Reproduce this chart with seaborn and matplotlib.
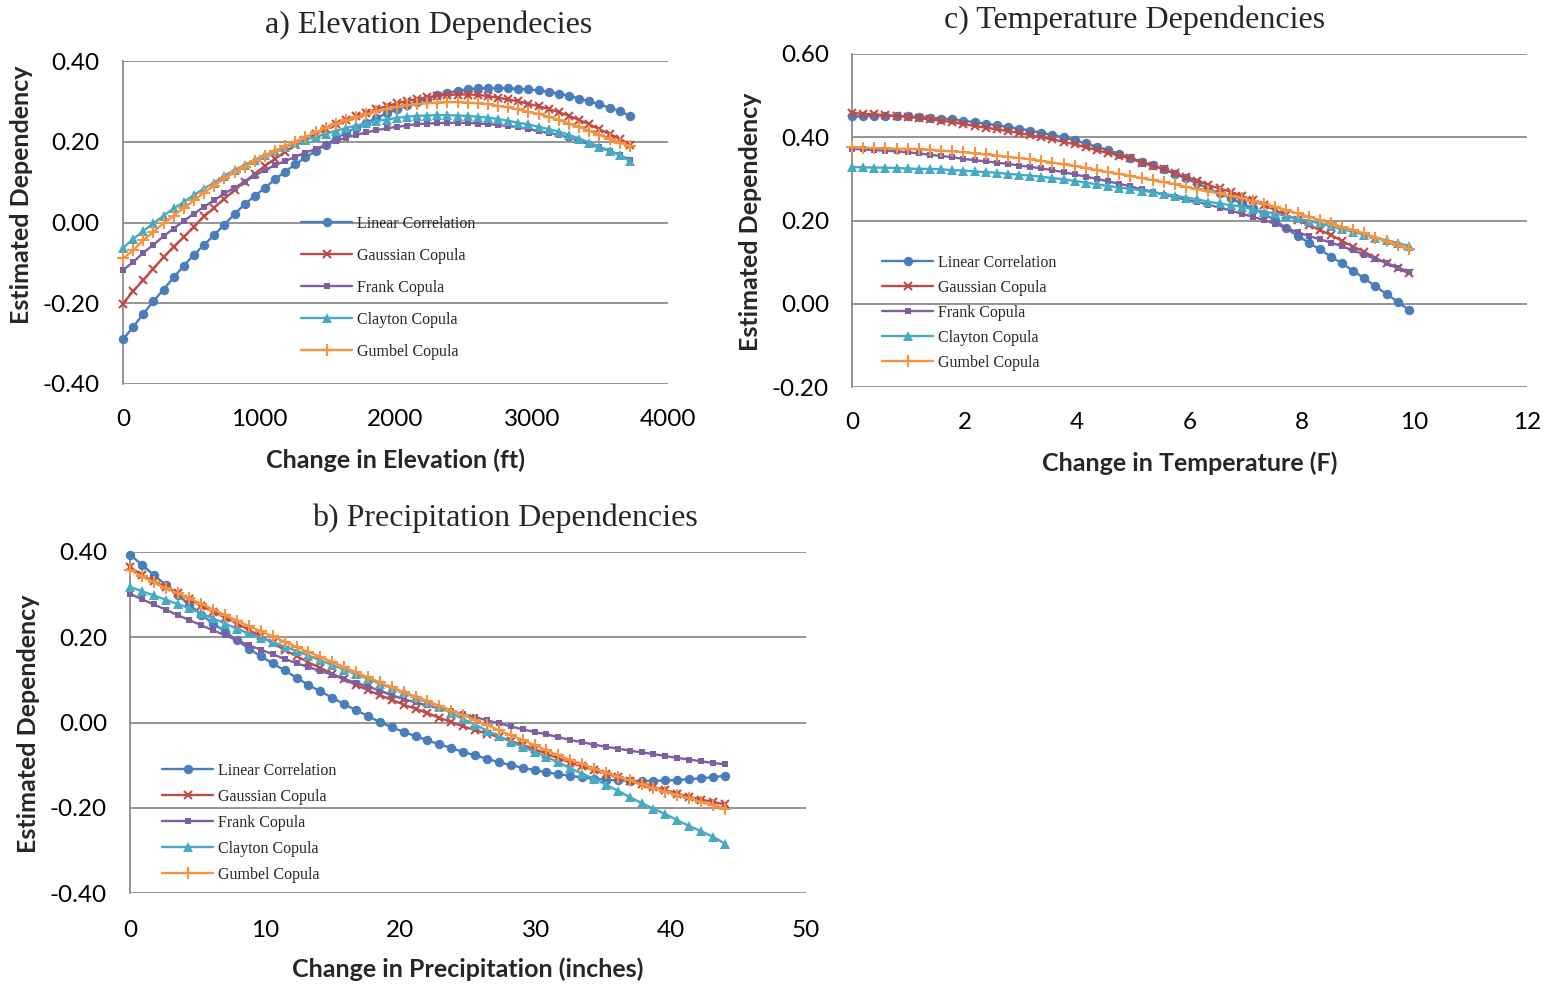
import numpy as np
import pandas as pd
import matplotlib
matplotlib.use("Agg")
import matplotlib.pyplot as plt
import seaborn as sns

# ---------------- data ----------------
series_names = ["Linear Correlation", "Gaussian Copula", "Frank Copula",
                "Clayton Copula", "Gumbel Copula"]

elev_ft = np.linspace(0, 3720, 51)
elev_linear = [-0.289, -0.259, -0.226, -0.195, -0.166, -0.136, -0.107, -0.080, -0.055, -0.031, -0.005,
               0.021, 0.045, 0.066, 0.086, 0.107, 0.126, 0.144, 0.161, 0.177, 0.193,
               0.208, 0.222, 0.235, 0.247, 0.259, 0.270, 0.280, 0.290, 0.299, 0.307,
               0.315, 0.321, 0.326, 0.330, 0.332, 0.333, 0.333, 0.332, 0.331, 0.330,
               0.327, 0.324, 0.319, 0.314, 0.307, 0.300, 0.293, 0.284, 0.276, 0.264]
elev_gauss = [-0.201, -0.170, -0.143, -0.114, -0.086, -0.060, -0.036, -0.010, 0.015, 0.037, 0.059,
              0.080, 0.101, 0.121, 0.140, 0.158, 0.175, 0.191, 0.205, 0.219, 0.232,
              0.243, 0.254, 0.263, 0.272, 0.281, 0.288, 0.295, 0.301, 0.306, 0.310,
              0.314, 0.316, 0.317, 0.317, 0.316, 0.313, 0.309, 0.305, 0.300, 0.294,
              0.288, 0.281, 0.273, 0.264, 0.254, 0.243, 0.231, 0.219, 0.207, 0.193]
elev_frank = [-0.118, -0.098, -0.075, -0.055, -0.034, -0.015, 0.004, 0.022, 0.039, 0.055, 0.072,
              0.086, 0.101, 0.116, 0.130, 0.142, 0.152, 0.163, 0.173, 0.182, 0.192,
              0.202, 0.210, 0.217, 0.223, 0.229, 0.233, 0.237, 0.240, 0.244, 0.245,
              0.246, 0.247, 0.247, 0.247, 0.245, 0.244, 0.241, 0.239, 0.236, 0.231,
              0.227, 0.222, 0.217, 0.210, 0.202, 0.194, 0.186, 0.177, 0.167, 0.155]
elev_clayton = [-0.063, -0.041, -0.021, -0.002, 0.017, 0.035, 0.051, 0.068, 0.084, 0.099, 0.116,
                0.130, 0.142, 0.155, 0.167, 0.177, 0.188, 0.196, 0.204, 0.212, 0.220,
                0.227, 0.234, 0.240, 0.246, 0.251, 0.255, 0.259, 0.262, 0.264, 0.265,
                0.266, 0.266, 0.265, 0.264, 0.262, 0.260, 0.256, 0.252, 0.247, 0.243,
                0.237, 0.231, 0.225, 0.217, 0.208, 0.198, 0.188, 0.178, 0.167, 0.152]
elev_gumbel = [-0.089, -0.069, -0.044, -0.023, -0.002, 0.017, 0.036, 0.055, 0.074, 0.091, 0.109,
               0.124, 0.138, 0.152, 0.165, 0.177, 0.189, 0.200, 0.212, 0.223, 0.234,
               0.244, 0.253, 0.261, 0.268, 0.275, 0.281, 0.286, 0.290, 0.293, 0.295,
               0.297, 0.298, 0.298, 0.297, 0.295, 0.293, 0.289, 0.285, 0.280, 0.274,
               0.269, 0.262, 0.254, 0.245, 0.237, 0.227, 0.217, 0.207, 0.198, 0.190]

temp_f = np.linspace(0, 9.9, 51)
temp_linear = [0.450, 0.451, 0.452, 0.452, 0.451, 0.450, 0.449, 0.447, 0.445, 0.443, 0.440,
               0.436, 0.433, 0.429, 0.425, 0.421, 0.416, 0.411, 0.405, 0.400, 0.393,
               0.385, 0.377, 0.369, 0.360, 0.351, 0.341, 0.333, 0.323, 0.312, 0.301,
               0.289, 0.277, 0.265, 0.253, 0.241, 0.229, 0.215, 0.201, 0.181, 0.163,
               0.147, 0.131, 0.113, 0.097, 0.079, 0.061, 0.042, 0.023, 0.005, -0.015]
temp_gauss = [0.459, 0.456, 0.455, 0.453, 0.451, 0.449, 0.446, 0.443, 0.440, 0.436, 0.432,
              0.427, 0.423, 0.419, 0.415, 0.410, 0.405, 0.400, 0.395, 0.389, 0.383,
              0.376, 0.369, 0.362, 0.356, 0.349, 0.339, 0.331, 0.323, 0.313, 0.304,
              0.296, 0.285, 0.277, 0.269, 0.259, 0.249, 0.237, 0.225, 0.213, 0.201,
              0.189, 0.177, 0.165, 0.151, 0.137, 0.125, 0.110, 0.097, 0.085, 0.073]
temp_frank = [0.372, 0.371, 0.369, 0.368, 0.366, 0.364, 0.361, 0.358, 0.355, 0.352, 0.348,
              0.345, 0.342, 0.339, 0.336, 0.332, 0.329, 0.325, 0.321, 0.316, 0.311,
              0.305, 0.300, 0.294, 0.288, 0.282, 0.275, 0.269, 0.262, 0.256, 0.250,
              0.244, 0.238, 0.231, 0.224, 0.216, 0.209, 0.201, 0.192, 0.182, 0.172,
              0.163, 0.155, 0.147, 0.138, 0.128, 0.118, 0.108, 0.098, 0.087, 0.077]
temp_clayton = [0.328, 0.328, 0.327, 0.327, 0.326, 0.325, 0.324, 0.324, 0.323, 0.321, 0.320,
                0.318, 0.316, 0.315, 0.312, 0.310, 0.308, 0.305, 0.302, 0.299, 0.295,
                0.291, 0.287, 0.283, 0.279, 0.276, 0.272, 0.268, 0.264, 0.260, 0.255,
                0.251, 0.245, 0.241, 0.237, 0.233, 0.227, 0.221, 0.217, 0.211, 0.205,
                0.199, 0.193, 0.186, 0.179, 0.173, 0.165, 0.159, 0.152, 0.146, 0.139]
temp_gumbel = [0.376, 0.375, 0.374, 0.373, 0.372, 0.372, 0.371, 0.370, 0.368, 0.366, 0.364,
               0.361, 0.359, 0.356, 0.353, 0.350, 0.347, 0.343, 0.339, 0.335, 0.331,
               0.326, 0.321, 0.316, 0.312, 0.307, 0.302, 0.297, 0.292, 0.287, 0.281,
               0.275, 0.270, 0.265, 0.259, 0.254, 0.247, 0.240, 0.233, 0.225, 0.217,
               0.209, 0.201, 0.193, 0.185, 0.177, 0.169, 0.159, 0.150, 0.141, 0.131]

precip_in = np.linspace(0, 44, 51)
precip_linear = [0.394, 0.370, 0.346, 0.323, 0.299, 0.276, 0.253, 0.232, 0.213, 0.193, 0.173,
                 0.155, 0.139, 0.122, 0.105, 0.088, 0.073, 0.058, 0.043, 0.029, 0.015,
                 0.001, -0.011, -0.022, -0.032, -0.042, -0.051, -0.060, -0.069, -0.077, -0.085,
                 -0.093, -0.100, -0.106, -0.112, -0.117, -0.121, -0.125, -0.129, -0.132, -0.134,
                 -0.136, -0.137, -0.137, -0.137, -0.136, -0.135, -0.133, -0.131, -0.128, -0.125]
precip_gauss = [0.365, 0.345, 0.331, 0.318, 0.303, 0.289, 0.273, 0.260, 0.246, 0.232, 0.217,
                0.202, 0.186, 0.170, 0.156, 0.141, 0.128, 0.114, 0.101, 0.088, 0.076,
                0.064, 0.053, 0.042, 0.032, 0.022, 0.011, 0.001, -0.009, -0.018, -0.026,
                -0.034, -0.043, -0.053, -0.063, -0.073, -0.084, -0.094, -0.103, -0.112, -0.120,
                -0.129, -0.137, -0.144, -0.151, -0.159, -0.167, -0.174, -0.181, -0.186, -0.192]
precip_frank = [0.302, 0.289, 0.277, 0.265, 0.252, 0.240, 0.228, 0.216, 0.205, 0.193, 0.181,
                0.171, 0.160, 0.149, 0.139, 0.130, 0.121, 0.112, 0.102, 0.093, 0.084,
                0.075, 0.064, 0.055, 0.047, 0.040, 0.033, 0.026, 0.020, 0.013, 0.005,
                -0.002, -0.009, -0.016, -0.022, -0.028, -0.034, -0.041, -0.046, -0.052, -0.057,
                -0.061, -0.066, -0.070, -0.074, -0.079, -0.083, -0.087, -0.091, -0.095, -0.098]
precip_clayton = [0.318, 0.308, 0.298, 0.288, 0.278, 0.268, 0.256, 0.244, 0.232, 0.220, 0.209,
                  0.199, 0.189, 0.178, 0.168, 0.157, 0.146, 0.135, 0.124, 0.113, 0.102,
                  0.091, 0.081, 0.071, 0.060, 0.049, 0.037, 0.022, 0.008, -0.005, -0.019,
                  -0.032, -0.045, -0.057, -0.069, -0.081, -0.093, -0.107, -0.120, -0.132, -0.146,
                  -0.160, -0.175, -0.189, -0.202, -0.215, -0.229, -0.243, -0.255, -0.268, -0.284]
precip_gumbel = [0.358, 0.343, 0.329, 0.315, 0.303, 0.291, 0.278, 0.265, 0.252, 0.239, 0.226,
                 0.214, 0.202, 0.189, 0.177, 0.165, 0.154, 0.142, 0.130, 0.118, 0.106,
                 0.094, 0.083, 0.071, 0.060, 0.050, 0.039, 0.028, 0.017, 0.006, -0.006,
                 -0.018, -0.030, -0.041, -0.053, -0.065, -0.077, -0.088, -0.098, -0.108, -0.118,
                 -0.127, -0.136, -0.145, -0.154, -0.162, -0.170, -0.178, -0.186, -0.194, -0.202]

elev_ticks = [0, 1000, 2000, 3000, 4000]
temp_ticks = [0, 2, 4, 6, 8, 10, 12]
precip_ticks = [0, 10, 20, 30, 40, 50]
dep_ticks_a = [-0.40, -0.20, 0.00, 0.20, 0.40]
dep_ticks_c = [-0.20, 0.00, 0.20, 0.40, 0.60]

# ---------------- style ----------------
sns.set_style("white")
plt.rcParams["font.family"] = ["Lato", "DejaVu Sans"]

W, H = 1547, 986
fig = plt.figure(figsize=(W / 100, H / 100), dpi=100)

colors = ["#4A7EBB", "#BE4B48", "#7D60A0", "#46AAC5", "#F69240"]
markers = ["o", "x", "s", "^", "+"]
msizes = [6.8, 6.0, 5.0, 7.2, 8.0]
mews = [0, 1.5, 0, 0, 1.5]
GRID = "#8C8C8C"


def px_axes(l, t, r, b):
    return fig.add_axes([l / W, 1 - b / H, (r - l) / W, (b - t) / H])


def ptext(x, y, s, **kw):
    fig.text(x / W, 1 - y / H, s, ha="center", va="center", **kw)


def panel(ax, x, ys, xlim, xticks, ylim, yticks, xpad, ypad, leg_xy, leg_sp):
    for name, y, c, m, ms, mew in zip(series_names, ys, colors, markers, msizes, mews):
        df = pd.DataFrame({"x": x, "y": y})
        sns.lineplot(data=df, x="x", y="y", ax=ax, color=c, marker=m, markersize=ms,
                     markeredgewidth=mew, markeredgecolor=c, linewidth=1.7,
                     label=name, clip_on=False, zorder=3)
    ax.set_xlim(*xlim)
    ax.set_ylim(*ylim)
    ax.set_xticks(xticks)
    ax.set_xticklabels([str(t) for t in xticks])
    ax.set_yticks(yticks)
    ax.set_yticklabels([f"{t:.2f}" for t in yticks])
    ax.yaxis.grid(True, color=GRID, linewidth=1.3)
    ax.xaxis.grid(False)
    for s in ["top", "right", "bottom"]:
        ax.spines[s].set_visible(False)
    ax.spines["left"].set_color(GRID)
    ax.spines["left"].set_linewidth(1.3)
    ax.tick_params(axis="both", length=0, labelsize=17.5, colors="black")
    ax.tick_params(axis="x", pad=xpad)
    ax.tick_params(axis="y", pad=ypad)
    ax.set_xlabel("")
    ax.set_ylabel("")
    ax.set_axisbelow(True)
    ax.legend(loc="upper left", bbox_to_anchor=(leg_xy[0] / W, 1 - leg_xy[1] / H),
              bbox_transform=fig.transFigure, frameon=False, borderpad=0,
              borderaxespad=0, handlelength=3.2, handletextpad=0.3,
              labelspacing=leg_sp,
              prop={"family": "Liberation Serif", "size": 11.5})


# a) Elevation
ax_a = px_axes(123, 61, 668, 384)
panel(ax_a, elev_ft, [elev_linear, elev_gauss, elev_frank, elev_clayton, elev_gumbel],
      (0, 4000), elev_ticks, (-0.4, 0.4), dep_ticks_a, 18.0, 17.0, (301, 216), 1.0)

# c) Temperature
ax_c = px_axes(852, 54, 1527, 387)
panel(ax_c, temp_f, [temp_linear, temp_gauss, temp_frank, temp_clayton, temp_gumbel],
      (0, 12), temp_ticks, (-0.2, 0.6), dep_ticks_c, 18.0, 16.5, (882, 255), 0.56)

# b) Precipitation
ax_b = px_axes(130, 552, 806, 893)
panel(ax_b, precip_in, [precip_linear, precip_gauss, precip_frank, precip_clayton, precip_gumbel],
      (0, 50), precip_ticks, (-0.4, 0.4), dep_ticks_a, 19.5, 16.5, (162, 763), 0.62)

# titles
tfont = {"family": "Liberation Serif", "size": 23}
ptext(429, 25, "a) Elevation Dependecies", **tfont)
ptext(1135, 20, "c) Temperature Dependencies", **tfont)
ptext(505, 518, "b) Precipitation Dependencies", **tfont)

# axis labels
lfont = {"size": 18, "weight": "bold"}
ptext(396, 460, "Change in Elevation (ft)", **lfont)
ptext(1190, 463, "Change in Temperature (F)", **lfont)
ptext(468, 969, "Change in Precipitation (inches)", **lfont)
ptext(22, 195, "Estimated Dependency", rotation=90, **lfont)
ptext(750, 222, "Estimated Dependency", rotation=90, **lfont)
ptext(28, 724, "Estimated Dependency", rotation=90, **lfont)

fig.savefig("out.png", dpi=100, facecolor="white")
